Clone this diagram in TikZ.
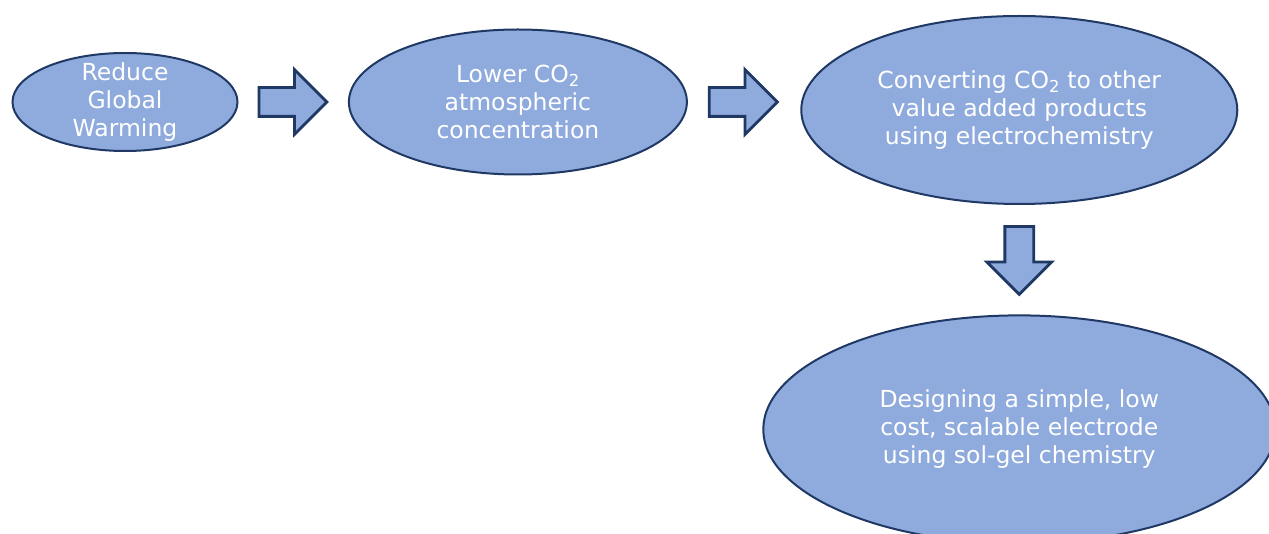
\documentclass[tikz,border=0pt]{standalone}
\usepackage{fontspec}
\setmainfont{DejaVu Sans}
\usepackage{xcolor}
\usepackage{tikz}
\usetikzlibrary{positioning,shapes}
\definecolor{blobfill}{HTML}{8FAADC}
\definecolor{blobline}{HTML}{203864}

\begin{document}
\begin{tikzpicture}[
    x=1pt, y=1pt,
    node distance=19pt,
    blob/.style={ellipse, draw=blobline, line width=2pt, fill=blobfill, text=white, inner sep=0pt, align=center, font=\fontsize{23.5}{28}\selectfont},
    blockarrow/.style={single arrow, draw=blobline, line width=2.8pt, fill=blobfill, inner sep=13pt, single arrow head extend=18pt, single arrow tip angle=90, minimum height=68pt}
]
    \clip (0,0) rectangle (1269,533);
    \node[blob, minimum width=225pt, minimum height=98pt, inner ysep=-30pt] (warming) at (125,431) {Reduce\\Global\\Warming};
    \node[blockarrow, right=of warming] (arrowa) {};
    \node[blob, minimum width=338pt, minimum height=145pt, right=of arrowa] (lower) {Lower CO\textsubscript{2}\\atmospheric\\concentration};
    \node[blockarrow, right=20pt of lower] (arrowb) {};
    \node[blob, minimum width=436pt, minimum height=188pt, right=21pt of arrowb, yshift=-8pt] (convert) {Converting CO\textsubscript{2} to other\\value added products\\using electrochemistry};
    \node[blockarrow, shape border rotate=270, below=20pt of convert] (arrowc) {};
    \node[blob, minimum width=512pt, minimum height=228pt, below=18pt of arrowc] (design) {Designing a simple, low\\cost, scalable electrode\\using sol-gel chemistry};
\end{tikzpicture}
\end{document}
